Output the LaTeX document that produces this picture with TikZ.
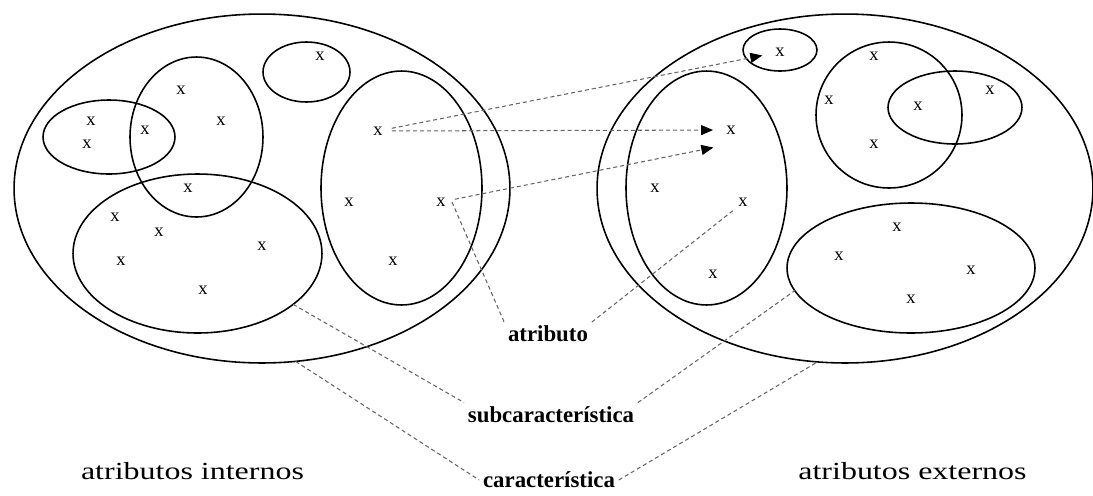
\documentclass[tikz,border=0pt]{standalone}
\usepackage{fontspec}
\setmainfont{Liberation Serif}
\newfontfamily\largafont[FakeStretch=1.3]{Liberation Serif}
\usetikzlibrary{shapes.geometric,arrows.meta}

\begin{document}
\begin{tikzpicture}[x=0.02cm, y=-0.02cm,
  conj/.style={draw, ellipse, line width=0.9pt, inner sep=0pt, outer sep=0pt},
  elem/.style={inner sep=0pt, font=\fontsize{10.5}{12}\selectfont},
  rotulo/.style={inner sep=2pt, font=\fontsize{13}{15}\selectfont\bfseries},
  titulo/.style={inner sep=0pt, font=\largafont\fontsize{14}{16}\selectfont},
  guia/.style={draw=black!60, line width=0.6pt, dash pattern=on 2.3pt off 1.7pt},
  seta/.style={guia, -{Triangle[length=0.24cm, width=0.2cm, color=black]},
    shorten <=0.18cm, shorten >=0.26cm}]
  \useasboundingbox (0,0) rectangle (1093,495);

  % atributos internos
  \node[conj, minimum width=9.92cm, minimum height=6.98cm] (int) at (262,188.5) {};
  \node[conj, minimum width=2.64cm, minimum height=1.48cm] (i1) at (109,137) {};
  \node[conj, minimum width=2.66cm, minimum height=3.2cm] (i2) at (196.5,137) {};
  \node[conj, minimum width=1.74cm, minimum height=1.2cm] (i3) at (306.5,72) {};
  \node[conj, minimum width=4.98cm, minimum height=3.18cm] (i4) at (197.5,253.5) {};
  \node[conj, minimum width=3.22cm, minimum height=4.68cm] (i5) at (401.5,188) {};
  \foreach \p [count=\k] in {(91,121),(87,144),(145,130),(181,90),(221,121),(188,188),
      (115,217),(159,232),(121,261),(262,246),(203,290),(320,56),(349,202),(393,261)}
    \node[elem] (xi\k) at \p {x};
  \node[elem] (xa) at (378,131) {x};
  \node[elem] (xb) at (441,202) {x};

  % atributos externos
  \node[conj, minimum width=9.92cm, minimum height=6.98cm] (ext) at (845,188.5) {};
  \node[conj, minimum width=1.48cm, minimum height=0.84cm] (e1) at (780,50) {};
  \node[conj, minimum width=3.22cm, minimum height=4.68cm] (e2) at (706.5,188) {};
  \node[conj, minimum width=2.92cm, minimum height=2.92cm] (e3) at (889,115) {};
  \node[conj, minimum width=2.68cm, minimum height=1.46cm] (e4) at (955,107.5) {};
  \node[conj, minimum width=4.96cm, minimum height=2.6cm] (e5) at (911,268) {};
  \foreach \p [count=\k] in {(655,188),(713,274),(874,56),(829,100),(918,106),(990,90),
      (874,144),(897,227),(839,256),(971,270),(911,299)}
    \node[elem] (xe\k) at \p {x};
  \node[elem] (xc) at (780,52) {x};
  \node[elem] (xd) at (731,130) {x};
  \node[elem] (xf) at (743,202) {x};

  % rotulos
  \node[rotulo] (atr) at (548,334) {atributo};
  \node[rotulo] (sub) at (551,414.5) {subcaracterística};
  \node[rotulo] (car) at (549,480) {característica};
  \node[titulo] (rint) at (192.5,471) {atributos internos};
  \node[titulo] (rext) at (912.5,471) {atributos externos};

  \draw[seta] (xa) -- (xc);
  \draw[seta] (xa) -- (xd);
  \draw[seta] (xb) -- ([yshift=-0.3cm]xd.west);
  \draw[guia] ([xshift=0.22cm]xb.center) -- (atr.north west);
  \draw[guia, shorten >=0.1cm] (atr.north east) -- (xf.south west);
  \draw[guia] (i4.-28) -- (sub.north west);
  \draw[guia] (sub.north east) -- (e5.191);
  \draw[guia] (int.-79) -- (car.west);
  \draw[guia] (car.east) -- (ext.261);
\end{tikzpicture}
\end{document}
